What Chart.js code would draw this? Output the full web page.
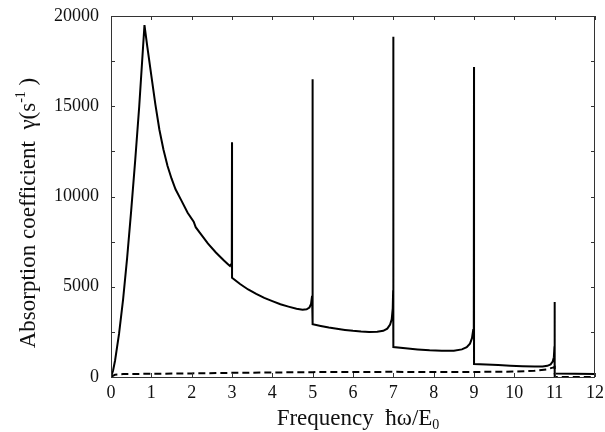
<!DOCTYPE html>
<html>
<head>
<meta charset="utf-8">
<script src="https://cdn.jsdelivr.net/npm/chart.js@4/dist/chart.umd.min.js"></script>
<style>
html,body{margin:0;padding:0;background:#fff;}
#wrap{width:605px;height:432px;}
</style>
</head>
<body>
<div id="wrap"><canvas id="c" width="605" height="432"></canvas></div>
<script>
// Solid curve: absorption coefficient vs frequency
const solidFreq  = [0,0.05,0.1,0.2,0.3,0.4,0.5,0.6,0.7,0.83,0.9,1.0,1.1,1.2,1.3,1.4,1.5,1.6,1.74,1.9,2.05,2.1,2.2,2.4,2.6,2.8,2.9,2.95,2.98,2.995,3.0,
  3.001,3.2,3.4,3.6,3.8,4.0,4.2,4.4,4.6,4.75,4.85,4.92,4.96,4.985,4.995,5.0,
  5.001,5.2,5.4,5.6,5.8,6.0,6.2,6.4,6.6,6.75,6.85,6.92,6.96,6.985,6.995,7.0,
  7.001,7.3,7.6,7.9,8.2,8.5,8.7,8.82,8.9,8.95,8.98,8.995,9.0,
  9.001,9.3,9.6,9.9,10.2,10.5,10.7,10.82,10.9,10.95,10.98,10.995,11.0,
  11.001,12.0];
const solidGamma = [0,350,900,2400,4300,6600,9200,12000,15000,19500,18300,16700,15100,13700,12600,11700,11000,10400,9800,9100,8600,8300,8000,7400,6900,6450,6250,6150,6250,6700,13000,
  5500,5150,4850,4600,4380,4200,4030,3900,3780,3730,3750,3850,4050,4500,5500,16500,
  2930,2830,2740,2670,2610,2560,2520,2500,2510,2560,2680,2900,3200,3800,4800,18850,
  1660,1590,1530,1480,1450,1460,1530,1650,1850,2150,2600,3500,17170,
  720,690,660,630,600,580,580,620,700,850,1100,1700,4150,
  200,170];
// Dashed curve
const dashedFreq  = [0,0.1,0.3,1,2,3,4,5,6,7,8,9,10,10.5,10.8,10.95,11.0,11.001,12];
const dashedGamma = [0,130,160,180,200,230,250,270,280,285,280,280,300,340,420,520,560,0,0];
// Axis ticks
const xTicks = [0,1,2,3,4,5,6,7,8,9,10,11,12];
const yTicks = [0,5000,10000,15000,20000];
const yMinorStep = 2500;

const toPts = (xs, ys) => xs.map((x, i) => ({x: x, y: ys[i]}));

const FONT = "'Liberation Serif','Times New Roman',serif";

const framePlugin = {
  id: 'frame',
  afterDatasetsDraw(chart) {
    const {ctx, chartArea: a, scales} = chart;
    const xs = scales.x, ys = scales.y;
    ctx.save();
    ctx.strokeStyle = '#333';
    ctx.lineWidth = 1;
    ctx.strokeRect(a.left + 0.5, a.top + 0.5, a.right - a.left - 1, a.bottom - a.top);
    ctx.beginPath();
    xTicks.forEach(v => {
      const px = Math.round(xs.getPixelForValue(v)) + 0.5;
      ctx.moveTo(px, a.bottom); ctx.lineTo(px, a.bottom - 4);
      ctx.moveTo(px, a.top); ctx.lineTo(px, a.top + 4);
    });
    for (let v = 0; v <= 20000; v += yMinorStep) {
      const py = Math.round(ys.getPixelForValue(v)) + 0.5;
      ctx.moveTo(a.left, py); ctx.lineTo(a.left + 4, py);
      ctx.moveTo(a.right, py); ctx.lineTo(a.right - 4, py);
    }
    ctx.stroke();

    // axis titles
    ctx.fillStyle = '#111';
    ctx.textBaseline = 'alphabetic';
    ctx.textAlign = 'left';
    const BIG = '23px ' + FONT, SMALL = '14px ' + FONT;
    // x title
    const main = 'Frequency  ħω/E';
    ctx.font = BIG;
    const w1 = ctx.measureText(main).width;
    ctx.font = SMALL;
    const w2 = ctx.measureText('0').width;
    const x0 = 358 - (w1 + w2) / 2;
    const yb = 425;
    ctx.font = BIG;
    ctx.fillText(main, x0, yb);
    ctx.font = SMALL;
    ctx.fillText('0', x0 + w1, yb + 4);

    // y title
    ctx.translate(35, 213);
    ctx.rotate(-Math.PI / 2);
    const t1 = 'Absorption coefficient  γ(s';
    const t2 = '-1';
    const t3 = ' )';
    ctx.font = BIG;
    const a1 = ctx.measureText(t1).width, a3 = ctx.measureText(t3).width;
    ctx.font = SMALL;
    const a2 = ctx.measureText(t2).width;
    const sx = -(a1 + a2 + a3) / 2;
    ctx.font = BIG;
    ctx.fillText(t1, sx, 0);
    ctx.font = SMALL;
    ctx.fillText(t2, sx + a1, -10);
    ctx.font = BIG;
    ctx.fillText(t3, sx + a1 + a2, 0);
    ctx.restore();
  }
};

const zeroPad = s => { s.paddingTop = 0; s.paddingBottom = 0; s.paddingLeft = 0; s.paddingRight = 0; };

new Chart(document.getElementById('c'), {
  type: 'line',
  data: {
    datasets: [
      {
        label: 'solid',
        data: toPts(solidFreq, solidGamma),
        borderColor: '#000',
        borderWidth: 2,
        pointRadius: 0,
        tension: 0,
        fill: false
      },
      {
        label: 'dashed',
        data: toPts(dashedFreq, dashedGamma),
        borderColor: '#000',
        borderWidth: 2,
        borderDash: [7, 4],
        pointRadius: 0,
        tension: 0,
        fill: false
      }
    ]
  },
  options: {
    responsive: false,
    animation: false,
    devicePixelRatio: 1,
    layout: {padding: {top: 16, right: 10, left: 0, bottom: 0}},
    plugins: {legend: {display: false}, tooltip: {enabled: false}},
    scales: {
      x: {
        type: 'linear',
        min: 0, max: 12,
        afterFit: s => { s.height = 55; zeroPad(s); },
        afterBuildTicks: s => { s.ticks = xTicks.map(v => ({value: v})); },
        grid: {display: false, drawTicks: false},
        border: {display: false},
        ticks: {color: '#111', font: {family: FONT, size: 18}, padding: 5, maxRotation: 0, autoSkip: false}
      },
      y: {
        type: 'linear',
        min: 0, max: 20000,
        afterFit: s => { s.width = 111; zeroPad(s); },
        afterBuildTicks: s => { s.ticks = yTicks.map(v => ({value: v})); },
        grid: {display: false, drawTicks: false},
        border: {display: false},
        ticks: {color: '#111', font: {family: FONT, size: 18}, padding: 12, autoSkip: false,
                callback: v => String(v)}
      }
    }
  },
  plugins: [framePlugin]
});
</script>
</body>
</html>
